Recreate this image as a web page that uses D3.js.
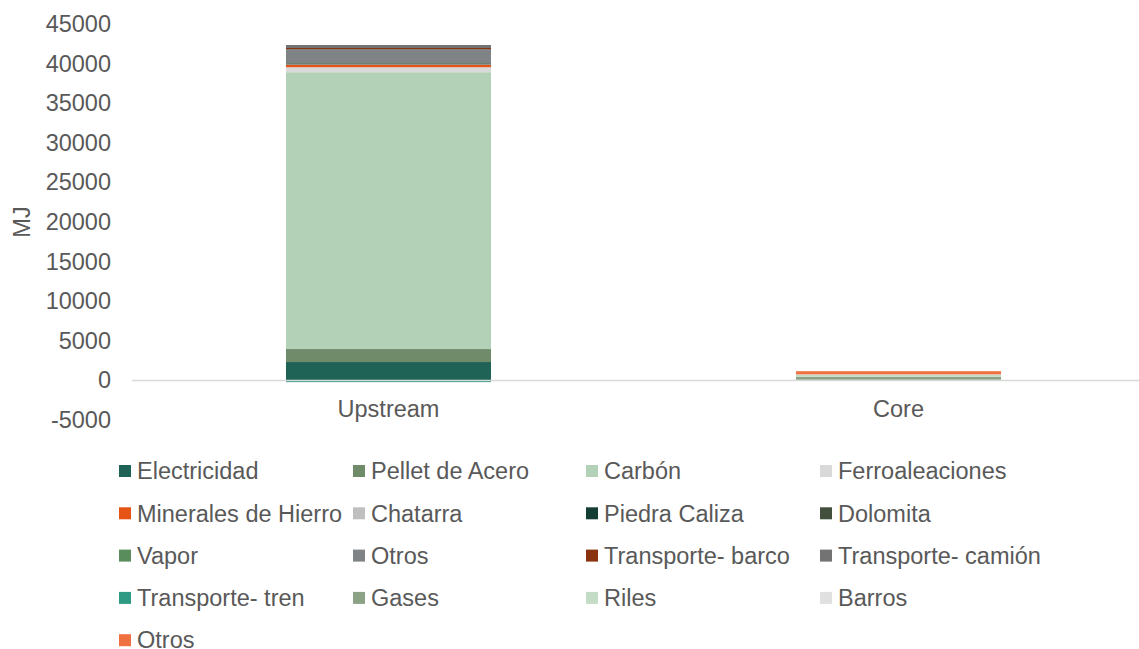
<!DOCTYPE html>
<html>
<head>
<meta charset="utf-8">
<script src="https://cdn.jsdelivr.net/npm/d3@7"></script>
<style>
  html, body { margin: 0; padding: 0; background: #ffffff; }
  svg { display: block; font-family: "Liberation Sans", Arial, sans-serif; }
</style>
</head>
<body>
<svg id="chart" width="1139" height="649"></svg>
<script>
// Stages on the x axis
const categories = ["Upstream", "Core"];

// Series names, in stacking order
const seriesNames = [
  "Electricidad", "Pellet de Acero", "Carbón", "Ferroaleaciones",
  "Minerales de Hierro", "Chatarra", "Piedra Caliza", "Dolomita",
  "Vapor", "Otros", "Transporte- barco", "Transporte- camión",
  "Transporte- tren", "Gases", "Riles", "Barros", "Otros"
];

// Energy (MJ) per series: [Upstream, Core]
const electricidad      = [2320, 0];
const pelletAcero       = [1640, 80];
const carbon            = [34950, 0];
const ferroaleaciones   = [630, 0];
const mineralesHierro   = [310, 0];
const chatarra          = [50, 0];
const piedraCaliza      = [120, 0];
const dolomita          = [30, 0];
const vapor             = [20, 0];
const otrosInsumos      = [1770, 0];
const transporteBarco   = [130, 0];
const transporteCamion  = [380, 0];
const transporteTren    = [-220, 0];
const gases             = [0, 380];
const riles             = [0, 260];
const barros            = [0, 40];
const otrosResiduos     = [0, 400];

const seriesValues = [
  electricidad, pelletAcero, carbon, ferroaleaciones, mineralesHierro,
  chatarra, piedraCaliza, dolomita, vapor, otrosInsumos, transporteBarco,
  transporteCamion, transporteTren, gases, riles, barros, otrosResiduos
];

const seriesColors = [
  "#1f6356", "#6f8b6a", "#b3d1b7", "#d9d9da", "#e65314", "#bfbfbf",
  "#143d33", "#424f3c", "#5a8d5c", "#7f8385", "#8b3310", "#737373",
  "#2e9a83", "#8ba287", "#c4dcc6", "#e0e0e0", "#ef7040"
];

const yTicks = [-5000, 0, 5000, 10000, 15000, 20000, 25000, 30000, 35000, 40000, 45000];

// Build table rows: one per category, keyed by series index
const keys = seriesNames.map((_, i) => "s" + i);
const rows = categories.map((c, ci) => {
  const r = { category: c };
  keys.forEach((k, si) => { r[k] = seriesValues[si][ci]; });
  return r;
});

const svg = d3.select("#chart");
const textColor = "#595959";
const fontSize = "23.5px";

const x = d3.scaleBand()
  .domain(categories)
  .range([133.5, 1153.5])
  .paddingInner(0.598)
  .paddingOuter(0.299);

const y = d3.scaleLinear()
  .domain([-5000, 45000])
  .range([420, 24]);

const stacked = d3.stack()
  .keys(keys)
  .offset(d3.stackOffsetDiverging)(rows);

// Bars
const layers = svg.append("g")
  .selectAll("g")
  .data(stacked)
  .join("g")
  .attr("fill", (d, i) => seriesColors[i]);

layers.selectAll("rect")
  .data(d => d)
  .join("rect")
  .attr("x", d => x(d.data.category))
  .attr("width", x.bandwidth())
  .attr("y", d => y(Math.max(d[0], d[1])))
  .attr("height", d => Math.abs(y(d[0]) - y(d[1])));

// Zero baseline
svg.append("line")
  .attr("x1", 132)
  .attr("x2", 1139)
  .attr("y1", y(0))
  .attr("y2", y(0))
  .attr("stroke", "#d9d9d9")
  .attr("stroke-width", 1.5);

// Y axis labels (plain hyphen for negatives)
const yAxis = d3.axisLeft(y)
  .tickValues(yTicks)
  .tickSize(0)
  .tickPadding(0)
  .tickFormat(d => String(d));

const yG = svg.append("g")
  .attr("transform", "translate(111,0)")
  .call(yAxis);
yG.select(".domain").remove();
yG.selectAll("text")
  .attr("fill", textColor)
  .style("font-size", fontSize)
  .style("font-family", "'Liberation Sans', Arial, sans-serif");

// X axis labels
const xAxis = d3.axisBottom(x).tickSize(0).tickPadding(0);
const xG = svg.append("g")
  .attr("transform", "translate(0,400)")
  .call(xAxis);
xG.select(".domain").remove();
xG.selectAll("text")
  .attr("fill", textColor)
  .style("font-size", fontSize)
  .style("font-family", "'Liberation Sans', Arial, sans-serif");

// Y axis title
svg.append("text")
  .attr("transform", "translate(22,222) rotate(-90)")
  .attr("text-anchor", "middle")
  .attr("dy", "0.35em")
  .attr("fill", textColor)
  .style("font-size", fontSize)
  .text("MJ");

// Legend: 4 columns
const colX = [119, 353, 586, 820];
const rowY0 = 471, rowStep = 42.3;
const legend = svg.append("g")
  .selectAll("g")
  .data(seriesNames)
  .join("g")
  .attr("transform", (d, i) =>
    `translate(${colX[i % 4]},${rowY0 + Math.floor(i / 4) * rowStep})`);

legend.append("rect")
  .attr("x", 0)
  .attr("y", -6)
  .attr("width", 12)
  .attr("height", 12)
  .attr("fill", (d, i) => seriesColors[i]);

legend.append("text")
  .attr("x", 18)
  .attr("dy", "0.35em")
  .attr("fill", textColor)
  .style("font-size", fontSize)
  .text(d => d);
</script>
</body>
</html>
